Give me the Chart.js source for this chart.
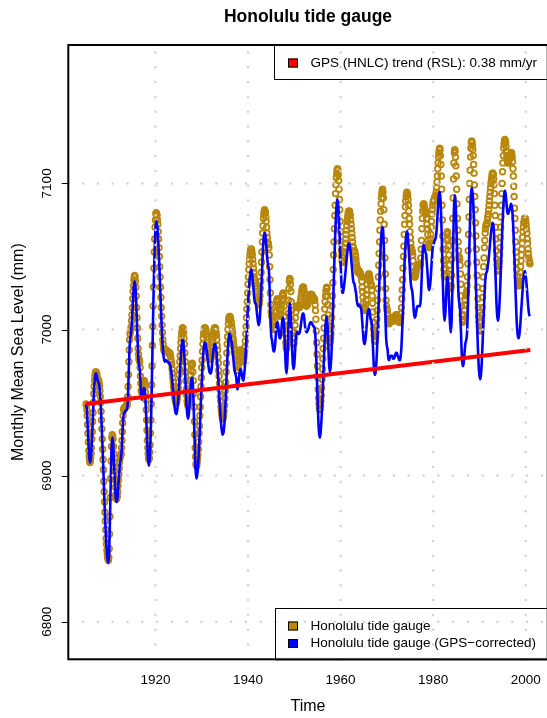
<!DOCTYPE html>
<html><head><meta charset="utf-8">
<script src="https://cdn.jsdelivr.net/npm/chart.js@4.4.1/dist/chart.umd.min.js"></script>
<style>html,body{margin:0;padding:0;background:#fff;overflow:hidden;}#wrap{width:560px;height:718px;}</style>
</head><body><div id="wrap"><canvas id="c" width="560" height="718" style="width:560px;height:718px"></canvas></div>
<script>
// ---- data ----
const startYear = 1905;        // first month of both series
const tideFrequency = 12;      // Honolulu tide gauge: monthly values
const tideGauge = [
6949,6948,6945,6941,6935,6929,6923,6917,6913,6910,6909,6910,
6912,6915,6919,6925,6930,6937,6943,6950,6956,6961,6965,6968,
6970,6971,6971,6970,6969,6967,6966,6965,6965,6965,6963,6961,
6958,6954,6950,6944,6938,6932,6925,6918,6911,6904,6896,6889,
6882,6875,6869,6863,6857,6853,6849,6846,6844,6843,6842,6844,
6850,6860,6872,6885,6898,6910,6920,6926,6928,6927,6925,6920,
6915,6909,6903,6897,6892,6887,6885,6884,6885,6886,6889,6893,
6897,6901,6905,6909,6912,6913,6914,6915,6919,6924,6930,6936,
6941,6945,6946,6946,6946,6947,6947,6947,6948,6948,6948,6950,
6954,6961,6969,6978,6986,6993,6997,6999,7000,7002,7006,7010,
7015,7021,7026,7030,7034,7036,7037,7036,7033,7029,7023,7015,
7008,7001,6994,6987,6983,6980,6979,6978,6974,6968,6963,6958,
6957,6957,6959,6960,6962,6963,6965,6965,6964,6961,6957,6952,
6945,6938,6931,6924,6919,6915,6912,6911,6912,6916,6921,6929,
6938,6949,6962,6975,6989,7002,7016,7029,7042,7053,7062,7070,
7075,7079,7080,7079,7078,7075,7072,7067,7062,7056,7050,7043,
7036,7029,7022,7015,7009,7003,6998,6993,6990,6987,6986,6985,
6985,6986,6986,6986,6986,6985,6985,6985,6985,6984,6984,6984,
6984,6984,6983,6982,6980,6978,6976,6973,6970,6967,6964,6961,
6959,6956,6954,6952,6951,6950,6950,6950,6952,6954,6957,6960,
6964,6969,6973,6978,6982,6987,6991,6994,6997,6999,7001,7001,
7000,6998,6994,6990,6984,6978,6971,6965,6959,6955,6951,6949,
6948,6949,6950,6953,6956,6960,6965,6969,6972,6975,6976,6977,
6976,6971,6965,6956,6947,6937,6928,6919,6913,6908,6907,6907,
6909,6911,6914,6918,6923,6929,6934,6941,6947,6954,6961,6967,
6974,6979,6985,6990,6994,6997,6999,7001,7001,7001,7000,6999,
6997,6995,6993,6991,6988,6986,6984,6982,6981,6980,6980,6980,
6981,6983,6985,6988,6991,6993,6996,6998,7000,7001,7001,7001,
7000,6998,6996,6993,6989,6986,6981,6977,6972,6968,6963,6959,
6954,6951,6947,6944,6942,6940,6939,6939,6940,6941,6944,6948,
6953,6958,6964,6971,6977,6984,6990,6995,7000,7004,7007,7008,
7009,7009,7008,7007,7005,7004,7002,6999,6997,6994,6992,6989,
6987,6986,6984,6983,6982,6982,6979,6975,6972,6972,6974,6976,
6978,6980,6983,6984,6986,6986,6985,6984,6982,6980,6979,6978,
6978,6980,6982,6985,6988,6992,6997,7002,7008,7014,7019,7025,
7031,7036,7041,7045,7048,7051,7053,7055,7055,7055,7053,7051,
7048,7045,7042,7039,7036,7034,7032,7032,7032,7030,7028,7026,
7023,7021,7019,7017,7017,7018,7020,7023,7028,7033,7039,7046,
7053,7060,7066,7071,7076,7079,7081,7082,7081,7080,7077,7074,
7070,7066,7063,7060,7059,7058,7056,7051,7043,7034,7025,7017,
7012,7010,7009,7008,7005,7003,7001,7000,7001,7002,7005,7009,
7012,7016,7019,7020,7021,7020,7019,7016,7014,7011,7010,7009,
7010,7011,7014,7017,7020,7023,7024,7025,7024,7021,7016,7009,
7003,6997,6991,6988,6987,6989,6994,7002,7011,7020,7028,7033,
7035,7034,7031,7026,7019,7013,7006,6999,6994,6991,6990,6991,
6994,6998,7003,7008,7012,7015,7016,7016,7016,7015,7015,7015,
7015,7015,7016,7017,7019,7021,7023,7025,7027,7028,7029,7029,
7029,7027,7025,7023,7020,7018,7017,7016,7016,7017,7017,7018,
7019,7020,7021,7022,7023,7023,7024,7024,7024,7024,7023,7023,
7022,7022,7021,7021,7021,7020,7017,7013,7007,6999,6991,6983,
6975,6967,6959,6953,6949,6946,6945,6946,6948,6951,6955,6960,
6966,6973,6980,6987,6994,7001,7008,7014,7019,7023,7026,7028,
7029,7028,7023,7017,7010,7003,6997,6992,6991,6992,6994,6997,
7002,7008,7016,7023,7032,7041,7051,7060,7069,7078,7085,7093,
7099,7104,7107,7109,7110,7109,7106,7102,7096,7089,7082,7074,
7067,7060,7054,7050,7047,7046,7046,7047,7049,7051,7053,7056,
7059,7062,7065,7068,7071,7074,7076,7078,7080,7081,7081,7081,
7079,7078,7075,7072,7069,7066,7063,7060,7057,7056,7054,7054,
7054,7053,7051,7050,7048,7045,7043,7042,7040,7039,7039,7040,
7040,7039,7039,7038,7038,7037,7036,7033,7029,7026,7022,7018,
7015,7014,7013,7014,7015,7017,7020,7024,7027,7031,7034,7036,
7037,7038,7038,7036,7035,7033,7031,7031,7030,7027,7023,7018,
7012,7005,7000,6996,6993,6992,6993,6995,6998,7002,7007,7013,
7020,7028,7036,7044,7052,7060,7068,7075,7081,7086,7090,7093,
7095,7096,7094,7090,7082,7072,7061,7049,7038,7028,7020,7016,
7014,7013,7011,7007,7005,7004,7004,7005,7006,7006,7007,7008,
7008,7008,7008,7007,7006,7006,7006,7006,7007,7008,7009,7010,
7010,7010,7010,7009,7008,7008,7007,7006,7005,7005,7005,7006,
7008,7011,7015,7021,7027,7034,7042,7050,7057,7065,7072,7078,
7084,7088,7091,7093,7094,7093,7092,7089,7085,7081,7076,7072,
7067,7063,7059,7056,7055,7054,7053,7051,7047,7043,7039,7037,
7036,7036,7037,7038,7040,7042,7043,7044,7044,7044,7044,7044,
7044,7044,7044,7045,7049,7055,7061,7069,7076,7081,7085,7086,
7086,7084,7083,7081,7081,7080,7079,7076,7072,7069,7065,7061,
7058,7057,7056,7057,7059,7062,7065,7070,7074,7079,7082,7085,
7087,7088,7088,7089,7090,7091,7091,7092,7094,7097,7101,7105,
7110,7114,7118,7121,7123,7124,7123,7119,7113,7105,7096,7085,
7075,7064,7055,7047,7041,7037,7036,7038,7042,7048,7055,7061,
7065,7067,7066,7062,7057,7051,7044,7038,7033,7029,7028,7030,
7037,7048,7061,7076,7090,7103,7114,7121,7123,7122,7118,7112,
7105,7096,7086,7076,7068,7060,7054,7050,7049,7048,7044,7038,
7031,7023,7016,7010,7006,7005,7006,7007,7010,7013,7017,7020,
7023,7024,7025,7026,7030,7036,7045,7054,7065,7077,7089,7100,
7109,7118,7124,7128,7129,7128,7126,7123,7119,7113,7107,7099,
7091,7082,7073,7064,7055,7046,7037,7029,7021,7015,7009,7005,
7002,7000,6999,7000,7002,7005,7010,7015,7022,7028,7036,7043,
7049,7056,7061,7066,7069,7071,7072,7072,7073,7075,7077,7079,
7082,7085,7088,7091,7094,7097,7100,7102,7104,7106,7107,7107,
7106,7103,7099,7093,7085,7078,7070,7062,7054,7048,7044,7041,
7040,7041,7043,7046,7051,7056,7063,7070,7077,7085,7093,7100,
7108,7114,7119,7124,7127,7129,7130,7129,7128,7125,7122,7119,
7116,7115,7114,7114,7115,7116,7117,7118,7119,7120,7121,7121,
7120,7118,7115,7110,7105,7098,7091,7083,7076,7068,7060,7053,
7046,7041,7036,7033,7031,7030,7030,7032,7033,7036,7039,7043,
7047,7051,7055,7059,7063,7067,7070,7073,7074,7076,7076,7076,
7074,7072,7069,7066,7062,7059,7055,7052,7049,7047,7046,7045
];
const correctedFrequency = 6;  // GPS-corrected series, read every two months
const gpsCorrected = [
6949,6945,6935,6923,6913,6909,
6911,6918,6929,6942,6955,6964,
6969,6970,6968,6965,6964,6962,
6957,6949,6937,6924,6910,6895,
6880,6867,6855,6847,6842,6840,
6848,6870,6896,6918,6926,6923,
6912,6900,6889,6882,6882,6886,
6894,6902,6909,6911,6916,6927,
6938,6943,6943,6944,6945,6945,
6950,6965,6982,6993,6996,7002,
7011,7022,7030,7033,7029,7019,
7004,6990,6979,6975,6970,6959,
6952,6954,6957,6960,6959,6952,
6940,6926,6914,6907,6907,6916,
6932,6956,6983,7010,7036,7056,
7069,7074,7072,7066,7056,7044,
7030,7016,7003,6992,6984,6980,
6978,6979,6979,6978,6978,6977,
6977,6976,6973,6969,6963,6957,
6951,6946,6943,6942,6944,6949,
6956,6965,6974,6983,6989,6993,
6992,6986,6976,6963,6951,6943,
6939,6941,6947,6956,6963,6967,
6967,6956,6938,6919,6904,6898,
6900,6905,6914,6925,6938,6952,
6964,6975,6984,6989,6991,6990,
6987,6983,6978,6974,6971,6970,
6970,6974,6980,6985,6989,6990,
6989,6985,6978,6970,6961,6952,
6943,6936,6931,6928,6929,6933,
6941,6952,6965,6978,6988,6995,
6997,6996,6993,6990,6985,6980,
6974,6971,6969,6966,6959,6961,
6965,6970,6973,6972,6969,6966,
6965,6969,6975,6984,6995,7006,
7017,7027,7034,7039,7041,7039,
7034,7028,7022,7018,7018,7014,
7009,7005,7003,7006,7014,7025,
7038,7051,7061,7066,7066,7062,
7055,7048,7044,7041,7028,7010,
6996,6993,6989,6985,6985,6989,
6996,7003,7005,7003,6998,6994,
6994,6998,7004,7008,7008,7000,
6986,6974,6970,6977,6994,7011,
7018,7014,7002,6989,6977,6973,
6976,6985,6994,6998,6998,6997,
6997,6998,7001,7005,7009,7011,
7011,7007,7002,6999,6998,6999,
7000,7002,7004,7005,7005,7004,
7003,7002,7002,6998,6988,6972,
6956,6940,6930,6926,6929,6936,
6946,6960,6974,6988,6999,7006,
7009,7003,6990,6977,6971,6974,
6981,6995,7011,7030,7048,7064,
7078,7086,7089,7085,7075,7061,
7046,7033,7026,7025,7028,7032,
7037,7043,7049,7054,7058,7059,
7057,7053,7047,7041,7035,7032,
7031,7028,7025,7020,7017,7016,
7017,7016,7015,7013,7006,6999,
6992,6990,6992,6997,7004,7011,
7013,7014,7011,7007,7006,6999,
6988,6976,6969,6969,6974,6983,
6996,7012,7028,7044,7057,7066,
7070,7069,7057,7036,7013,6995,
6989,6986,6980,6979,6981,6982,
6982,6982,6980,6980,6981,6983,
6984,6984,6982,6981,6979,6979,
6982,6989,7001,7016,7031,7046,
7057,7064,7067,7065,7058,7049,
7040,7032,7028,7026,7020,7012,
7008,7009,7012,7015,7016,7016,
7016,7016,7021,7033,7048,7057,
7058,7055,7053,7051,7044,7037,
7029,7027,7030,7036,7045,7053,
7058,7059,7061,7062,7065,7072,
7081,7089,7094,7094,7084,7067,
7045,7025,7011,7006,7012,7025,
7035,7036,7027,7014,7003,6998,
7006,7030,7059,7083,7092,7087,
7074,7055,7037,7023,7018,7013,
7000,6985,6975,6975,6979,6986,
6991,6993,6998,7013,7033,7057,
7077,7092,7097,7094,7087,7075,
7058,7040,7022,7004,6988,6976,
6969,6966,6969,6977,6989,7003,
7016,7028,7036,7039,7040,7044,
7048,7054,7060,7066,7070,7073,
7072,7065,7051,7036,7020,7010,
7006,7009,7017,7029,7043,7059,
7073,7084,7092,7095,7093,7087,
7081,7079,7080,7082,7084,7086,
7084,7079,7069,7055,7040,7024,
7010,7000,6995,6994,6997,7003,
7011,7019,7027,7034,7038,7040,
7037,7032,7025,7018,7012,7009
];
const trendYears = [1905, 2001];       // GPS (HNLC) trend line ends
const trendValues = [6949, 6986];
const xTicks = [1920, 1940, 1960, 1980, 2000];
const yTicks = [6800, 6900, 7000, 7100];
const xLimits = [1901.16, 2004.76];
const yLimits = [6774.3, 7194.7];
const titleText = 'Honolulu tide gauge';
const xTitle = 'Time';
const yTitle = 'Monthly Mean Sea Level (mm)';
const legendTop = [{label: 'GPS (HNLC) trend (RSL): 0.38 mm/yr', color: '#FF0000'}];
const legendBottom = [
  {label: 'Honolulu tide gauge', color: '#B8860B'},
  {label: 'Honolulu tide gauge (GPS\u2212corrected)', color: '#0000FF'}
];

// ---- build chart ----
const FONT = '"Liberation Sans", Arial, Helvetica, sans-serif';
const tidePoints = tideGauge.map((v, i) => ({x: startYear + i / tideFrequency, y: v}));
const correctedPoints = gpsCorrected.map((v, i) => ({x: startYear + i / correctedFrequency, y: v}));
const trendPoints = trendYears.map((t, i) => ({x: t, y: trendValues[i]}));

function dottedLine(ctx, x0, y0, x1, y1, step) {
  const len = Math.hypot(x1 - x0, y1 - y0);
  const n = Math.floor(len / step);
  for (let k = 0; k <= n; k++) {
    const f = (k * step) / len;
    ctx.beginPath();
    ctx.arc(x0 + (x1 - x0) * f, y0 + (y1 - y0) * f, 1.25, 0, Math.PI * 2);
    ctx.fill();
  }
}

const rPlot = {
  id: 'rplot',
  afterDatasetsDraw(chart) {
    const {ctx, chartArea: a, scales: {x, y}} = chart;
    ctx.save();
    ctx.fillStyle = '#D3D3D3';
    xTicks.forEach(v => {
      const px = x.getPixelForValue(v);
      dottedLine(ctx, px, a.bottom, px, a.top, 14.8);
    });
    yTicks.forEach(v => {
      const py = y.getPixelForValue(v);
      dottedLine(ctx, a.left, py, a.right, py, 14.8);
    });
    ctx.restore();
  },
  afterDraw(chart) {
    const {ctx, chartArea: a, scales: {x, y}} = chart;
    ctx.save();
    // box
    ctx.strokeStyle = '#000';
    ctx.lineWidth = 2;
    ctx.strokeRect(a.left, a.top, a.right - a.left, a.bottom - a.top);
    // y ticks
    ctx.lineWidth = 1;
    yTicks.forEach(v => {
      const py = Math.round(y.getPixelForValue(v)) + 0.5;
      ctx.beginPath(); ctx.moveTo(a.left - 6.6, py); ctx.lineTo(a.left, py); ctx.stroke();
    });
    ctx.fillStyle = '#000';
    ctx.font = '13.5px ' + FONT;
    ctx.textAlign = 'center';
    ctx.textBaseline = 'middle';
    xTicks.forEach(v => ctx.fillText(String(v), x.getPixelForValue(v), 680.5));
    yTicks.forEach(v => {
      ctx.save();
      ctx.translate(47.5, y.getPixelForValue(v));
      ctx.rotate(-Math.PI / 2);
      ctx.fillText(String(v), 0, 0);
      ctx.restore();
    });
    // axis titles
    ctx.font = '16px ' + FONT;
    ctx.fillText(xTitle, (a.left + a.right) / 2, 707);
    ctx.save();
    ctx.translate(19, (a.top + a.bottom) / 2);
    ctx.rotate(-Math.PI / 2);
    ctx.fillText(yTitle, 0, 0);
    ctx.restore();
    // title
    ctx.font = 'bold 17.5px ' + FONT;
    ctx.fillText(titleText, (a.left + a.right) / 2, 17);
    // legends
    function legend(items, left, top, bottom, rows) {
      ctx.lineWidth = 1;
      ctx.strokeStyle = '#000';
      ctx.strokeRect(left + 0.5, top + 0.5, a.right - left, bottom - top);
      ctx.font = '13.5px ' + FONT;
      ctx.textAlign = 'left';
      items.forEach((it, i) => {
        const cy = rows[i];
        ctx.fillStyle = it.color;
        ctx.fillRect(288, cy - 4.5, 10, 9);
        ctx.strokeRect(288.5, cy - 4, 9, 8);
        ctx.fillStyle = '#000';
        ctx.fillText(it.label, 310.5, cy);
      });
    }
    legend(legendTop, 274, 45, 79, [63]);
    legend(legendBottom, 275, 608, 659.3, [626, 643.5]);
    ctx.restore();
  }
};

new Chart(document.getElementById('c'), {
  type: 'line',
  data: {
    datasets: [
      {label: legendBottom[0].label, data: tidePoints, showLine: false, order: 3,
       pointRadius: 2.8, pointBorderWidth: 1.8, pointBorderColor: '#B8860B',
       pointBackgroundColor: 'rgba(0,0,0,0)', pointHoverRadius: 2.8},
      {label: legendBottom[1].label, data: correctedPoints, order: 2, borderColor: '#0000FF',
       borderWidth: 2.6, pointRadius: 0, cubicInterpolationMode: 'monotone', fill: false},
      {label: legendTop[0].label, data: trendPoints, order: 1, borderColor: '#FF0000',
       borderWidth: 4, pointRadius: 0, fill: false}
    ]
  },
  options: {
    responsive: false,
    animation: false,
    devicePixelRatio: 1,
    layout: {padding: {left: 68.3, top: 45, right: 12.3, bottom: 58.7}},
    plugins: {legend: {display: false}, tooltip: {enabled: false}, title: {display: false}},
    events: [],
    scales: {
      x: {type: 'linear', min: xLimits[0], max: xLimits[1], display: false},
      y: {type: 'linear', min: yLimits[0], max: yLimits[1], display: false}
    }
  },
  plugins: [rPlot]
});
</script>
</body></html>
